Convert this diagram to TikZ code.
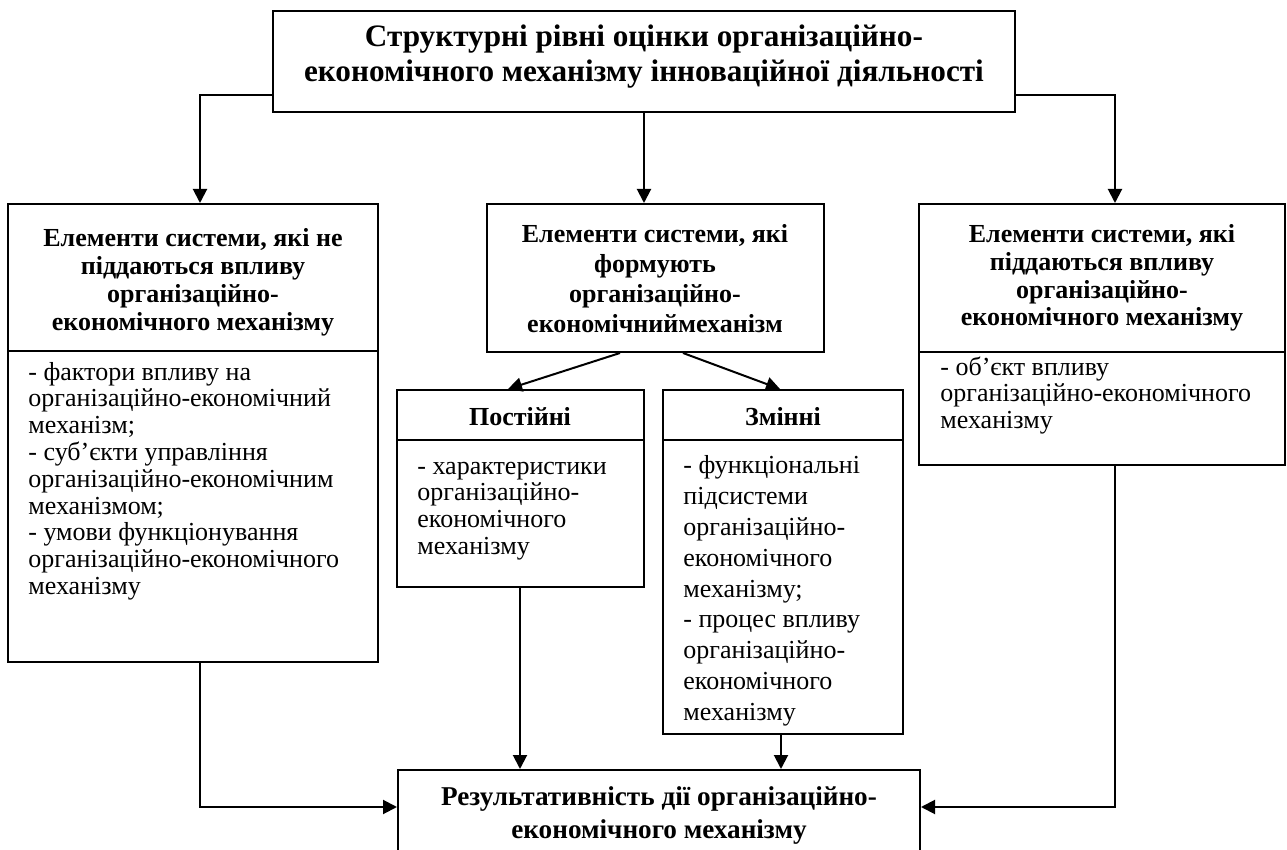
\documentclass[tikz,border=0pt]{standalone}
\usepackage{fontspec}
\setmainfont{Liberation Serif}
\usetikzlibrary{arrows.meta,fit}
\begin{document}
\begin{tikzpicture}[x=0.5pt,y=-0.5pt,
  box/.style={draw,line width=1pt,inner sep=0pt,fit={#1}},
  txt/.style={inner sep=0pt,font=\fontsize{13}{13.4}\selectfont},
  hd/.style={inner sep=0pt,font=\fontsize{13}{13.4}\selectfont\bfseries,align=center},
  bd/.style={txt,align=left,anchor=north west},
  arr/.style={line width=1pt,-{Triangle[length=7pt,width=7pt]}},
  ln/.style={line width=1pt}]
\useasboundingbox (0,0) rectangle (1287,850);
\clip (0,0) rectangle (1287,850);
% boxes
\node[box={(273,11)(1015,112)}] (top) {};
\node[box={(8,204)(378,351)}] (lh) {};
\node[box={(8,351)(378,662)}] (lb) {};
\node[box={(487,204)(824,352)}] (mh) {};
\node[box={(919,204)(1285,352)}] (rh) {};
\node[box={(919,352)(1285,465)}] (rb) {};
\node[box={(397,390)(644,440)}] (ph) {};
\node[box={(397,440)(644,587)}] (pb) {};
\node[box={(663,390)(903,440)}] (zh) {};
\node[box={(663,440)(903,734)}] (zb) {};
\node[box={(398,770)(920,870)}] (res) {};
% texts
\node[hd,font=\fontsize{15.6}{17.5}\selectfont\bfseries] (ttop) at (644,57)
  {Структурні рівні оцінки організаційно-\\економічного механізму інноваційної діяльності};
\node[hd,font=\fontsize{13}{14}\selectfont\bfseries] (tlh) at (193,282) {Елементи системи, які не\\піддаються впливу\\організаційно-\\економічного механізму};
\node[hd,font=\fontsize{13}{15}\selectfont\bfseries] (tmh) at (655,279) {Елементи системи, які\\формують\\організаційно-\\економічниймеханізм};
\node[hd,font=\fontsize{13}{13.8}\selectfont\bfseries] (trh) at (1102,278) {Елементи системи, які\\піддаються впливу\\організаційно-\\економічного механізму};
\node[hd] (tph) at (520,417) {Постійні};
\node[hd] (tzh) at (783,417) {Змінні};
\node[hd,font=\fontsize{13.6}{16.5}\selectfont\bfseries] (tres) at (659,815) {Результативність дії організаційно-\\економічного механізму};
\node[bd] (tlb) at (28,361) {\strut- фактори впливу на\\організаційно-економічний\\механізм;\\- суб’єкти управління\\організаційно-економічним\\механізмом;\\- умови функціонування\\організаційно-економічного\\механізму};
\node[bd] (tpb) at (417,455) {\strut- характеристики\\організаційно-\\економічного\\механізму};
\node[bd,font=\fontsize{13}{15.4}\selectfont] (tzb) at (683,452) {\strut- функціональні\\підсистеми\\організаційно-\\економічного\\механізму;\\- процес впливу\\організаційно-\\економічного\\механізму};
\node[bd] (trb) at (940,356) {\strut- об’єкт впливу\\організаційно-економічного\\механізму};
% connectors
\coordinate (cl) at (200,95);
\coordinate (cr) at (1115,95);
\draw[arr] (top.west |- cl) -- (cl) -- (cl |- lh.north);
\draw[arr] (top.south -| 644,0) -- (644,0 |- mh.north);
\draw[arr] (top.east |- cr) -- (cr) -- (cr |- rh.north);
\draw[arr] (620,0 |- mh.south) -- (508,0 |- ph.north);
\draw[arr] (683,0 |- mh.south) -- (780,0 |- zh.north);
\draw[arr] (520,0 |- pb.south) -- (520,0 |- res.north);
\draw[arr] (781,0 |- zb.south) -- (781,0 |- res.north);
\coordinate (bl) at (200,807);
\coordinate (br) at (1115,807);
\draw[arr] (bl |- lb.south) -- (bl) -- (res.west |- bl);
\draw[arr] (br |- rb.south) -- (br) -- (res.east |- br);
\end{tikzpicture}
\end{document}
